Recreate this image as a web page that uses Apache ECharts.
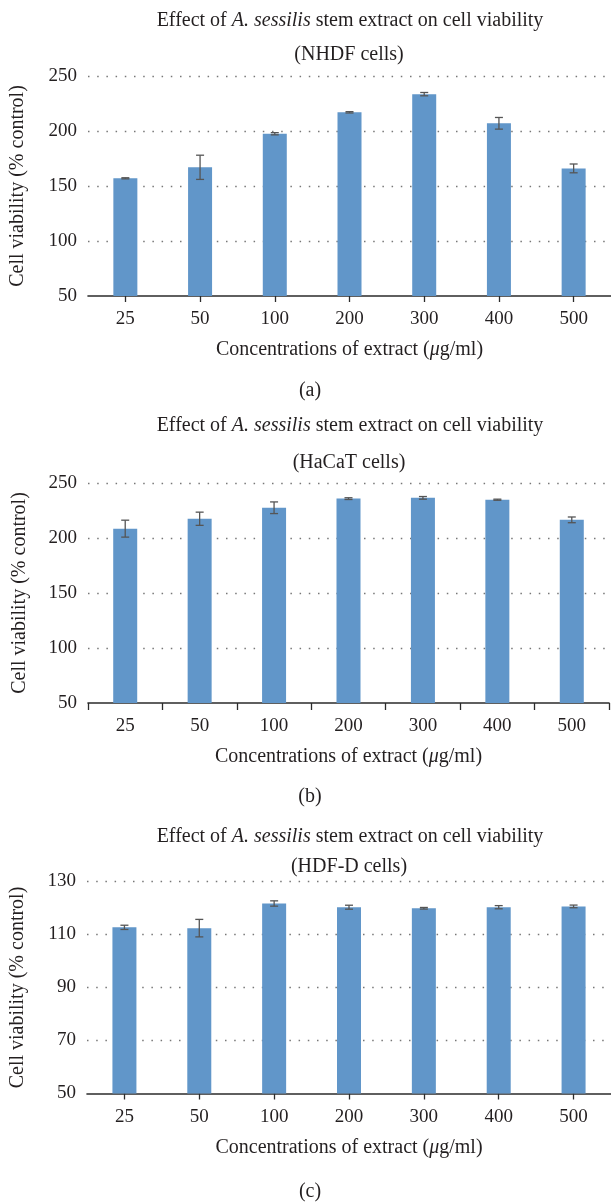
<!DOCTYPE html>
<html>
<head>
<meta charset="utf-8">
<script src="https://cdn.jsdelivr.net/npm/echarts@6/dist/echarts.min.js"></script>
<style>
  html, body { margin: 0; padding: 0; background: #fff; }
  #chart { width: 611px; height: 1202px; }
</style>
</head>
<body>
<div id="chart"></div>
<script>
// concentrations (µg/ml)
const categories = ['25', '50', '100', '200', '300', '400', '500']

// (a) NHDF cells
const nhdfMean = [157, 167, 197.5, 217, 233.5, 207, 166]
const nhdfErr = [0.5, 11, 1, 0.6, 1.5, 5.3, 4]
// (b) HaCaT cells
const hacatMean = [208.5, 217.5, 227.5, 235.8, 236.5, 234.8, 216.5]
const hacatErr = [7.7, 6, 5.3, 0.8, 1.2, 0.5, 2.6]
// (c) HDF-D cells
const hdfdMean = [112.7, 112.4, 121.7, 120.3, 119.9, 120.3, 120.6]
const hdfdErr = [0.8, 3.3, 1, 0.75, 0.3, 0.6, 0.5]

const cellLines = ['(NHDF cells)', '(HaCaT cells)', '(HDF-D cells)']
const captions = ['(a)', '(b)', '(c)']
const yTicksA = [50, 250, 50]  // min, max, interval
const yTicksB = [50, 250, 50]
const yTicksC = [50, 130, 20]

const FONT = '"Liberation Serif", "Times New Roman", serif'
const TXT = '#231f20'
const BAR = '#6196c9'

const myChart = echarts.init(document.getElementById('chart'))

const grids = [
  { left: 84, top: 76, width: 527, height: 220 },
  { left: 88, top: 483, width: 521, height: 220 },
  { left: 83, top: 881.5, width: 528, height: 212 },
]

function xAxisFor(i, between) {
  return {
    type: 'category',
    gridIndex: i,
    data: categories,
    axisLine: { lineStyle: { color: '#2b2b2b', width: 1.6 } },
    axisTick: between
      ? { show: true, length: 7, lineStyle: { color: '#2b2b2b', width: 1.3 } }
      : { show: true, alignWithLabel: true, length: 6, lineStyle: { color: '#2b2b2b', width: 1.3 } },
    axisLabel: { color: TXT, fontFamily: FONT, fontSize: 19, margin: 14 },
    name: 'Concentrations of extract ({i|μ}g/ml)',
    nameLocation: 'middle',
    nameGap: 44,
    nameTextStyle: {
      color: TXT, fontFamily: FONT, fontSize: 20,
      rich: { i: { fontStyle: 'italic', fontFamily: FONT, fontSize: 20, color: TXT } },
    },
  }
}

function yAxisFor(i, ticks, gap) {
  return {
    type: 'value',
    gridIndex: i,
    min: ticks[0],
    max: ticks[1],
    interval: ticks[2],
    axisLine: { show: false },
    axisTick: { show: false },
    axisLabel: { color: TXT, fontFamily: FONT, fontSize: 19, margin: 11 },
    splitLine: { showMinLine: false, lineStyle: { color: '#777', width: 1.3, type: [1.5, 7.7] } },
    name: 'Cell viability (% control)',
    nameLocation: 'middle',
    nameGap: gap,
    nameTextStyle: { color: TXT, fontFamily: FONT, fontSize: 20 },
  }
}

function errItem(params, api) {
  const idx = api.value(0)
  const m = api.value(1)
  const e = api.value(2)
  const hi = api.coord([idx, m + e])
  const lo = api.coord([idx, m - e])
  const w = 4
  const st = { stroke: '#555', lineWidth: 1.3 }
  return {
    type: 'group',
    children: [
      { type: 'line', shape: { x1: hi[0], y1: hi[1], x2: lo[0], y2: lo[1] }, style: st },
      { type: 'line', shape: { x1: hi[0] - w, y1: hi[1], x2: hi[0] + w, y2: hi[1] }, style: st },
      { type: 'line', shape: { x1: lo[0] - w, y1: lo[1], x2: lo[0] + w, y2: lo[1] }, style: st },
    ],
  }
}

function barSeries(i, mean) {
  return {
    type: 'bar',
    xAxisIndex: i,
    yAxisIndex: i,
    data: mean,
    barWidth: 24,
    itemStyle: { color: BAR },
    silent: true,
  }
}

function errSeries(i, mean, err) {
  return {
    type: 'custom',
    xAxisIndex: i,
    yAxisIndex: i,
    data: categories.map((c, k) => [k, mean[k], err[k]]),
    renderItem: errItem,
    z: 5,
    silent: true,
  }
}

// title lines and captions, centred at given points
const titleY = [[21, 55], [426, 463], [837, 867]]
const captionY = [391, 797, 1192]
const titles = []
for (let k = 0; k < 3; k++) {
  titles.push({
    text: 'Effect of {i|A. sessilis} stem extract on cell viability',
    left: 350, top: titleY[k][0], textAlign: 'center', textVerticalAlign: 'middle',
    padding: 0,
    textStyle: {
      color: TXT, fontFamily: FONT, fontSize: 20, fontWeight: 'normal',
      rich: { i: { fontStyle: 'italic', fontFamily: FONT, fontSize: 20, color: TXT } },
    },
  })
  titles.push({
    text: cellLines[k],
    left: 349, top: titleY[k][1], textAlign: 'center', textVerticalAlign: 'middle',
    padding: 0,
    textStyle: { color: TXT, fontFamily: FONT, fontSize: 20, fontWeight: 'normal' },
  })
  titles.push({
    text: captions[k],
    left: 310, top: captionY[k], textAlign: 'center', textVerticalAlign: 'middle',
    padding: 0,
    textStyle: { color: TXT, fontFamily: FONT, fontSize: 20, fontWeight: 'normal' },
  })
}

const option = {
  backgroundColor: '#ffffff',
  animation: false,
  title: titles,
  grid: grids,
  xAxis: [xAxisFor(0, false), xAxisFor(1, true), xAxisFor(2, false)],
  yAxis: [yAxisFor(0, yTicksA, 60), yAxisFor(1, yTicksB, 58), yAxisFor(2, yTicksC, 59)],
  series: [
    barSeries(0, nhdfMean),
    errSeries(0, nhdfMean, nhdfErr),
    barSeries(1, hacatMean),
    errSeries(1, hacatMean, hacatErr),
    barSeries(2, hdfdMean),
    errSeries(2, hdfdMean, hdfdErr),
  ],
}

myChart.setOption(option)
</script>
</body>
</html>
